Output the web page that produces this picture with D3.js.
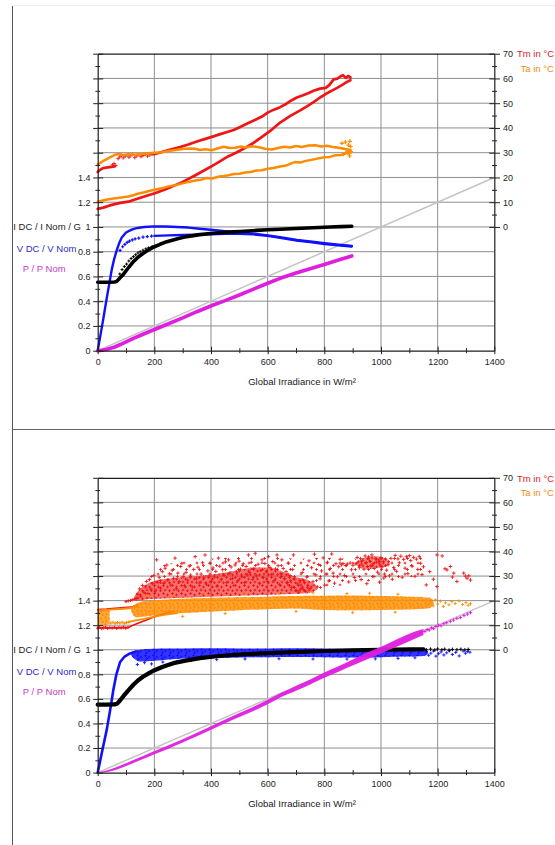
<!DOCTYPE html>
<html>
<head>
<meta charset="utf-8">
<title>PV module response vs. global irradiance</title>
<script src="https://cdn.jsdelivr.net/npm/d3@7/dist/d3.min.js"></script>
<style>
  html, body { margin: 0; padding: 0; background: #fff; }
  svg { display: block; }
  text { font-family: "Liberation Sans", Arial, Helvetica, sans-serif; }
</style>
</head>
<body>
<svg id="chart" width="555" height="845"></svg>
<script>
// ---------- ticks and titles ----------
const G_TICKS = [0, 200, 400, 600, 800, 1000, 1200, 1400];
const G_MINOR = [100, 300, 500, 700, 900, 1100, 1300];
const G_GRID = [200, 400, 600, 800, 1000, 1200];
const RATIO_LABELS = [0, 0.2, 0.4, 0.6, 0.8, 1, 1.2, 1.4];
const RATIO_MAJOR = [0, 0.2, 0.4, 0.6, 0.8, 1, 1.2, 1.4, 1.6, 1.8, 2, 2.2, 2.4];
const RATIO_MINOR = [0.1, 0.3, 0.5, 0.7, 0.9, 1.1, 1.3, 1.5, 1.7, 1.9, 2.1, 2.3];
const RATIO_GRID = [0.2, 0.4, 0.6, 0.8, 1, 1.2, 1.4, 1.6, 1.8, 2, 2.2];
const TEMP_TICKS = [0, 10, 20, 30, 40, 50, 60, 70];
const TEMP_MINOR = [5, 15, 25, 35, 45, 55, 65];
const X_TITLE = "Global Irradiance in W/m²";
const LEFT_TITLES = ["I DC / I Nom / G", "V DC / V Nom", "P / P Nom"];
const RIGHT_TITLES = ["Tm in °C", "Ta in °C"];
const REF_LINE = [[0, 0], [1400, 1.4]];   // P/P Nom = G / 1000

// ---------- day A (upper chart): [G, value] ----------
const A_TM_RISE = [[0,7.3],[20,7.8],[40,8.6],[60,9.2],[80,9.7],[108,10.2],[140,11.4],[170,12.5],[202,13.6],[240,15.2],[270,16.7],[300,18.2],[340,20.6],[380,23.1],[403,24.6],[430,26.4],[460,28.5],[490,30.1],[520,31.9],[550,34.0],[580,36.4],[610,38.9],[644,42.2],[680,44.9],[715,47.1],[740,48.8],[762,50.4],[785,52.3],[803,53.6],[825,55.0],[845,56.2],[862,57.3],[880,58.6],[892,59.3]];
const A_TM_FALL_START = [[0,22.2],[6,22.9],[14,23.5],[24,23.9],[36,24.1],[48,24.3],[60,24.5]];
const A_TM_SCATTER = [[52,25.1],[58,25.6],[64,24.8],[72,27.6],[78,28.3],[84,28.9],[90,27.9],[97,28.6],[104,29.1],[110,28.2],[117,28.8],[124,29.3],[131,28.0],[138,28.7],[146,29.2],[153,28.4],[160,28.9],[168,29.4],[176,28.6],[184,29.1],[192,29.3]];
const A_TM_FALL = [[198,29.4],[215,29.9],[235,30.6],[260,31.4],[291,32.3],[320,33.3],[350,34.5],[380,35.6],[400,36.3],[430,37.4],[460,38.5],[480,39.2],[503,40.4],[530,41.9],[555,43.2],[580,44.6],[600,46.2],[620,47.3],[644,48.4],[665,49.7],[685,51.2],[703,52.3],[725,53.2],[745,54.1],[762,55.0],[785,55.9],[805,56.2],[818,57.4],[833,59.6],[846,59.9],[856,60.8],[866,61.3],[876,60.2],[884,61.0],[892,60.4]];
const A_TA_RISE = [[0,10.2],[15,10.6],[30,11.0],[50,11.4],[70,11.7],[90,12.0],[108,12.3],[125,12.8],[145,13.5],[165,14.0],[185,14.6],[205,15.1],[226,15.6],[250,16.4],[275,16.9],[300,17.6],[320,18.2],[344,18.8],[365,19.1],[385,19.8],[405,19.6],[425,20.3],[445,20.6],[462,20.9],[480,21.4],[500,21.5],[520,22.0],[540,22.2],[560,22.8],[579,22.9],[600,23.5],[620,23.8],[644,24.4],[665,24.8],[685,25.8],[697,26.2],[715,26.0],[735,26.7],[755,27.1],[775,27.6],[800,28.2],[820,28.3],[840,29.0],[860,29.1],[878,29.8],[892,30.0]];
const A_TA_FALL = [[0,25.3],[8,25.8],[16,26.4],[25,27.0],[35,27.6],[45,28.2],[55,28.8],[65,29.3],[75,29.5],[90,29.1],[110,29.4],[130,29.2],[160,29.6],[200,30.0],[225,30.2],[250,30.7],[280,31.2],[300,31.5],[320,31.7],[344,31.6],[360,31.1],[380,31.4],[403,31.0],[425,31.8],[445,32.4],[465,31.9],[485,32.0],[505,32.5],[520,32.1],[545,32.6],[570,32.2],[590,31.6],[615,31.3],[640,32.0],[660,32.4],[680,32.1],[700,32.7],[720,32.3],[745,32.9],[768,33.0],[790,32.5],[810,32.8],[830,32.3],[850,32.0],[870,31.6],[892,31.1]];
const A_TA_END = [[862,33.8],[868,29.4],[874,34.3],[880,30.6],[885,33.1],[889,28.7],[893,32.5],[890,34.6],[884,29.9],[894,30.4]];
const A_IDC = [[0,0.553],[20,0.553],[40,0.553],[60,0.555],[67,0.56],[75,0.58],[90,0.615],[108,0.67],[126,0.72],[143,0.757],[161,0.787],[180,0.815],[196,0.836],[220,0.86],[244,0.881],[285,0.907],[314,0.922],[360,0.938],[408,0.949],[460,0.958],[503,0.963],[560,0.972],[600,0.977],[644,0.982],[700,0.988],[760,0.994],[820,0.999],[860,1.003],[897,1.006]];
const A_IDC_DOTS = [[78,0.62],[86,0.655],[94,0.68],[102,0.70],[110,0.725],[118,0.745],[126,0.76],[134,0.775],[142,0.79],[150,0.80],[160,0.812],[170,0.823],[180,0.832],[192,0.842]];
const A_VDC = [[0,0],[10,0.13],[20,0.26],[30,0.40],[40,0.53],[50,0.66],[58,0.74],[67,0.81],[76,0.87],[85,0.915],[100,0.955],[120,0.978],[140,0.992],[165,1.0],[200,1.005],[240,1.004],[280,1.0],[320,0.995],[360,0.985],[408,0.975],[450,0.965],[500,0.955],[550,0.945],[600,0.932],[644,0.918],[703,0.895],[750,0.882],[801,0.868],[850,0.856],[897,0.846]];
const A_VDC_LOW = [[200,0.928],[250,0.932],[300,0.935],[350,0.937],[400,0.94],[450,0.944],[500,0.945],[550,0.94],[600,0.928],[644,0.912],[703,0.89],[750,0.877],[801,0.862],[850,0.852],[897,0.842]];
const A_VDC_DOTS = [[79,0.81],[88,0.84],[96,0.86],[104,0.875],[112,0.885],[122,0.895],[132,0.903],[145,0.91],[160,0.918],[175,0.922],[190,0.926]];
const A_P = [[0,0],[15,0.004],[30,0.01],[45,0.02],[60,0.03],[80,0.05],[100,0.072],[126,0.1],[160,0.133],[196,0.167],[250,0.218],[300,0.265],[350,0.315],[408,0.369],[450,0.405],[500,0.45],[550,0.497],[600,0.545],[644,0.585],[700,0.628],[750,0.662],[800,0.696],[850,0.733],[897,0.766]];

// ---------- day B (lower chart) ----------
const B_TM_LOW_DOTS = [[0,8.8],[7,9.1],[14,8.6],[21,8.9],[28,9.2],[35,8.7],[43,9.0],[51,8.8],[59,9.1],[67,8.7],[75,9.0],[83,8.9],[91,9.2],[99,8.8],[107,9.1]];
const B_TM_LOW_RISE = [[0,8.9],[108,9.0],[120,9.8],[140,10.7],[170,12.0],[200,13.4],[238,14.9],[270,15.8]];
const B_TM_TOP_EDGE = [[0,16.4],[30,16.6],[60,16.9],[95,17.2],[125,17.5],[140,18.2]];
const B_TM_LEFT_BITS = [[100,19.6],[108,19.9],[116,20.1],[124,20.4],[132,20.7],[138,21.0]];
// [G, lower T, upper T] of the dense parts of the Tm cloud
const B_TM_CORE = [[128,20.2,21.5],[140,20.0,23.5],[170,20.5,26.5],[200,20.8,28.0],[250,21.0,29.0],[300,21.2,29.5],[350,21.4,30.0],[400,21.6,30.5],[450,21.8,31.5],[500,22.0,32.5],[550,22.2,33.5],[600,22.4,33.5],[650,22.6,32.0],[700,22.8,29.5],[740,23.0,28.5],[760,23.5,27.0],[775,24.5,25.5]];
const B_TM_CLUSTER = [[912,34.5,35.5],[925,33.5,36.5],[950,32.8,37.8],[975,33.0,38.2],[1000,33.5,37.8],[1020,34.0,37.0],[1032,35.0,36.0]];
// [G, lower T, upper T] of the looser parts of the Tm cloud
const B_TM_LOOSE = [[180,27.0,33.0],[300,29.0,36.0],[450,31.0,37.5],[600,33.0,38.5],[700,24.0,37.0],[800,25.0,37.5],[900,27.0,37.0],[1000,28.5,38.0],[1100,29.5,38.5],[1150,30.5,38.0]];
const B_TM_POINTS = [
  [142,22.5],[148,24.8],[152,21.8],[158,26.2],[163,23.4],[168,25.6],[172,27.8],[178,22.9],[183,28.6],[188,24.7],[193,26.9],[198,30.2],[203,23.6],[208,36.6],[212,27.4],[217,29.5],[222,25.1],[228,31.8],[233,27.0],[238,33.2],[244,34.5],[248,28.4],[253,30.9],[258,26.3],[263,32.4],[268,29.1],[273,37.3],[278,24.8],[283,31.2],[288,27.7],[293,33.9],[297,35.2],[302,29.8],
  [307,26.1],[312,31.5],[318,28.3],[323,34.1],[328,30.4],[334,25.6],[339,32.7],[344,37.9],[349,28.9],[354,33.6],[360,27.2],[365,30.8],[370,35.4],[375,29.3],[379,38.6],[384,26.7],[389,32.1],[393,30.0],[397,35.2],[402,27.9],[407,33.3],[412,29.6],[417,31.9],[421,25.8],[426,37.3],[431,34.0],[436,28.5],[441,32.6],[446,30.3],[451,35.8],[456,27.4],[462,36.6],[466,31.1],[471,33.7],[476,29.0],[481,26.2],[485,34.5],[490,31.6],[495,28.1],[499,36.1],
  [504,32.8],[509,29.7],[514,35.0],[519,27.3],[524,33.9],[528,30.5],[532,38.6],[537,31.4],[542,35.6],[547,28.6],[551,33.0],[556,39.3],[561,30.1],[566,34.8],[571,26.9],[576,32.2],[580,36.6],[585,29.4],[590,35.1],[595,31.7],[599,27.8],[603,37.9],[608,33.5],[613,30.6],[618,35.9],[623,28.2],[628,32.9],[633,38.6],[637,34.2],[642,26.5],[646,30.9],[650,36.6],[655,33.1],[660,29.0],[665,31.8],[670,27.4],[674,35.2],[679,30.2],[684,25.3],[688,32.7],[691,38.6],[696,28.8],
  [702,24.1],[706,26.8],[710,23.5],[714,28.2],[718,25.0],[722,31.5],[726,24.6],[730,27.3],[734,23.8],[738,29.6],[742,26.1],[746,36.2],[750,24.9],[755,33.4],[760,27.7],[765,38.9],[770,30.5],[775,25.6],[780,34.7],[785,28.9],[790,32.1],[796,37.4],[801,26.3],[806,30.8],[811,35.6],[816,28.0],[821,33.1],[826,39.0],[831,31.2],[836,27.1],[841,35.0],[846,29.7],[851,33.8],[856,36.8],[861,34.6],[866,35.1],[871,30.2],[876,34.3],[881,34.9],[886,27.6],[891,35.3],[896,32.6],[901,34.4],[906,29.4],[911,35.0],[916,37.6],
  [920,35.8],[924,33.4],[928,37.1],[932,34.9],[936,36.4],[940,32.8],[944,38.2],[948,35.5],[952,33.9],[956,37.8],[960,36.1],[964,34.2],[968,38.6],[972,35.0],[976,33.1],[980,37.0],[984,35.7],[988,31.6],[992,36.6],[996,34.5],[1000,37.5],[1004,33.7],[1008,35.9],[1012,30.8],[1016,36.9],[1020,32.4],
  [930,28.6],[950,26.9],[975,29.8],[995,27.5],[1010,29.2],
  [1025,34.6],[1030,30.1],[1035,37.2],[1040,28.7],[1045,33.5],[1050,38.4],[1055,31.9],[1060,37.0],[1065,35.4],[1070,38.1],[1075,29.5],[1080,36.8],[1085,33.2],[1090,37.9],[1095,31.0],[1100,38.3],[1105,36.3],[1110,34.0],[1115,37.6],[1120,29.9],[1125,36.9],[1130,32.7],[1135,38.0],[1140,35.2],[1145,30.6],[1150,33.8],
  [1160,26.4],[1172,31.8],[1185,28.7],[1198,38.6],[1198,25.7],[1216,38.2],[1226,33.0],[1233,32.5],[1245,33.9],[1252,29.6],[1257,31.2],[1268,27.8],[1292,31.2],[1298,30.0],[1304,29.1],[1310,30.1],[1316,28.4]
];
const B_TA_BLOCK = [[0,9.8,16.0],[20,10.0,16.2],[42,10.4,16.4]];
const B_TA_LOW_DOTS = [[46,10.9],[54,11.2],[62,10.8],[70,11.1],[78,10.9],[86,11.2],[94,10.8],[102,11.1],[110,11.3]];
const B_TA_LOW_RISE = [[110,11.4],[130,11.9],[160,12.5],[200,13.5],[240,14.3],[280,14.9]];
const B_TA_TOP_EDGE = [[0,16.0],[40,16.3],[80,16.6],[120,17.0],[140,17.6]];
const B_TA_BAND = [[118,15.8,17.4],[135,13.2,18.6],[160,13.4,19.7],[200,14.0,20.2],[260,14.7,20.6],[343,15.2,21.0],[420,15.7,21.2],[500,16.1,21.4],[600,16.5,21.6],[697,16.8,21.9],[800,16.2,22.0],[900,16.1,22.1],[1000,16.2,21.9],[1100,16.4,21.6],[1170,16.9,21.2],[1185,18.2,20.2]];
const B_TA_POINTS = [[180,22.0],[260,21.9],[380,22.5],[520,23.0],[640,22.8],[760,23.2],[880,22.9],[960,23.0],[1060,22.6],[300,13.6],[450,14.8],[700,15.6],[900,15.1],[1050,15.3],
  [1176,19.4],[1184,17.9],[1192,20.3],[1200,18.6],[1210,19.8],[1220,17.6],[1228,19.1],[1240,18.3],[1250,19.6],[1262,18.8],[1275,19.9],[1288,18.4],[1300,19.2],[1308,18.1],[1316,18.7]];
const B_IDC = [[0,0.553],[30,0.553],[60,0.555],[68,0.56],[78,0.585],[90,0.62],[108,0.67],[126,0.715],[143,0.752],[161,0.782],[180,0.808],[196,0.829],[230,0.862],[267,0.891],[310,0.912],[361,0.932],[420,0.947],[479,0.959],[560,0.968],[644,0.976],[720,0.983],[800,0.99],[900,0.996],[1000,1.0],[1100,1.003],[1150,1.004]];
const B_IDC_TAIL = [[1160,1.0],[1175,1.005],[1190,0.998],[1200,1.006],[1215,1.0],[1225,1.004],[1240,0.997],[1252,1.003],[1268,1.0],[1282,1.004],[1296,0.999],[1308,1.003]];
const B_VDC_RISE = [[0,0],[10,0.11],[20,0.22],[32,0.35],[44,0.51],[55,0.67],[66,0.8],[79,0.9],[95,0.945],[114,0.97],[135,0.985]];
const B_VDC_BAND = [[118,0.955,0.975],[125,0.935,0.985],[150,0.905,1.0],[200,0.91,1.008],[250,0.92,1.01],[300,0.928,1.01],[400,0.934,1.012],[500,0.938,1.01],[600,0.94,1.01],[700,0.942,1.012],[800,0.94,1.01],[900,0.938,1.008],[1000,0.94,1.01],[1080,0.945,1.008],[1150,0.95,1.004],[1165,0.965,0.99]];
const B_VDC_POINTS = [[140,0.88],[165,0.895],[190,0.885],[230,0.9],[280,0.905],[330,0.915],[420,0.92],[520,0.925],[640,0.927],[760,0.925],[880,0.924],[980,0.926],[1060,0.93],[1120,0.935],
  [1160,0.985],[1168,0.955],[1176,0.972],[1185,0.99],[1194,0.948],[1203,0.968],[1212,0.982],[1222,0.958],[1232,0.975],[1242,0.992],[1252,0.962],[1264,0.978],[1276,0.95],[1290,0.99],[1298,0.972],[1306,0.985],[1314,0.98]];
const B_P_BAND = [[0,0,0.004],[20,0,0.012],[45,0.01,0.028],[80,0.035,0.057],[126,0.078,0.102],[160,0.11,0.135],[196,0.145,0.171],[250,0.195,0.222],[300,0.245,0.272],[350,0.295,0.325],[408,0.357,0.388],[450,0.402,0.433],[500,0.452,0.485],[550,0.502,0.537],[600,0.556,0.593],[644,0.612,0.645],[700,0.667,0.705],[750,0.718,0.758],[800,0.772,0.815],[850,0.822,0.865],[900,0.872,0.92],[950,0.92,0.975],[1000,0.97,1.025],[1040,1.01,1.068],[1080,1.05,1.11],[1120,1.09,1.148],[1150,1.12,1.17]];
const B_P_TAIL = [[1155,1.15],[1163,1.165],[1170,1.16],[1178,1.178],[1186,1.172],[1194,1.19],[1203,1.2],[1212,1.195],[1222,1.212],[1232,1.22],[1245,1.232],[1256,1.242],[1268,1.255],[1280,1.262],[1293,1.278],[1305,1.29],[1316,1.302]];

// ---------- colours ----------
const C = {
  tm: "#f01414", ta: "#ff8c00", idc: "#000000", vdc: "#1010ff", p: "#e01ee0",
  ref: "#c4c4c4", grid: "#8e8e8e", axis: "#1e1e1e",
  tmText: "#e0202a", taText: "#f08c14", vText: "#2a2ad0", pText: "#c83cc8"
};

const svg = d3.select("#chart");

// '+'-marker textures for the dense parts of the scatter clouds
const defs = svg.append("defs");
function crossPattern(id, color, w, h, pts) {
  const pat = defs.append("pattern").attr("id", id).attr("patternUnits", "userSpaceOnUse")
    .attr("width", w).attr("height", h);
  pat.append("path")
    .attr("d", pts.map(([px, py]) => `M${px - 1.4},${py}h2.8M${px},${py - 1.4}v2.8`).join(""))
    .attr("stroke", color).attr("stroke-width", 0.9).attr("fill", "none");
}
crossPattern("texTm", C.tm, 9, 8, [[1.5, 1.5], [5.5, 3], [3, 6], [7.5, 6.8]]);
crossPattern("texTmLoose", C.tm, 13, 11, [[2, 2], [8.5, 4.5], [4.5, 8.5]]);
crossPattern("texTa", C.ta, 8, 7, [[1.5, 1.5], [5, 2.5], [2.5, 5], [6.5, 5.8]]);
crossPattern("texV", C.vdc, 8, 6, [[1.5, 1.5], [5, 3], [2.5, 4.8]]);

// page frame
svg.append("line").attr("x1", 12.5).attr("x2", 12.5).attr("y1", 5).attr("y2", 845).attr("stroke", "#555").attr("stroke-width", 1);
svg.append("line").attr("x1", 12).attr("x2", 555).attr("y1", 5.5).attr("y2", 5.5).attr("stroke", "#ececec").attr("stroke-width", 1);
svg.append("line").attr("x1", 12).attr("x2", 555).attr("y1", 429.5).attr("y2", 429.5).attr("stroke", "#666").attr("stroke-width", 1);

function buildPanel(base, top) {
  const x = d3.scaleLinear().domain([0, 1400]).range([97.7, 494.3]);
  const y = d3.scaleLinear().domain([0, 2.4]).range([base, top]);
  const t = d3.scaleLinear().domain([0, 70]).range([y(1), y(2.4)]);
  const root = svg.append("g");
  const gridG = root.append("g");
  const dataG = root.append("g");
  const axisG = root.append("g");

  // grid
  gridG.append("g").selectAll("line").data(RATIO_GRID).join("line")
    .attr("x1", x(0)).attr("x2", x(1400)).attr("y1", d => y(d)).attr("y2", d => y(d))
    .attr("stroke", C.grid).attr("stroke-width", 1);
  gridG.append("g").selectAll("line").data(G_GRID).join("line")
    .attr("x1", d => x(d)).attr("x2", d => x(d)).attr("y1", y(0)).attr("y2", y(2.4))
    .attr("stroke", C.grid).attr("stroke-width", 1);

  const style = sel => sel.attr("font-size", 9).attr("font-family", '"Liberation Sans", Arial, sans-serif')
    .attr("color", C.axis)
    .call(s => s.selectAll(".domain").attr("stroke-width", 1.2));
  const noDomain = s => s.select(".domain").remove();
  const plain = d => String(d);

  // left ratio axis
  axisG.append("g").attr("transform", `translate(${x(0)},0)`)
    .call(d3.axisLeft(y).tickValues(RATIO_MAJOR).tickSize(4.5).tickSizeOuter(0).tickPadding(2.8)
      .tickFormat(d => RATIO_LABELS.includes(d) ? String(d) : ""))
    .call(style);
  axisG.append("g").attr("transform", `translate(${x(0)},0)`)
    .call(d3.axisRight(y).tickValues(RATIO_MAJOR).tickSize(5.5).tickFormat("")).call(noDomain).call(style);
  axisG.append("g").attr("transform", `translate(${x(0)},0)`)
    .call(d3.axisLeft(y).tickValues(RATIO_MINOR).tickSize(2.3).tickFormat("")).call(noDomain).call(style);
  axisG.append("g").attr("transform", `translate(${x(0)},0)`)
    .call(d3.axisRight(y).tickValues(RATIO_MINOR).tickSize(2.5).tickFormat("")).call(noDomain).call(style);

  // right border and temperature axis
  axisG.append("g").attr("transform", `translate(${x(1400)},0)`)
    .call(d3.axisRight(y).tickValues([]).tickSizeOuter(0)).call(style);
  axisG.append("g").attr("transform", `translate(${x(1400)},0)`)
    .call(d3.axisRight(t).tickValues(TEMP_TICKS).tickSize(5.7).tickSizeOuter(0).tickPadding(3).tickFormat(plain))
    .call(noDomain).call(style);
  axisG.append("g").attr("transform", `translate(${x(1400)},0)`)
    .call(d3.axisLeft(t).tickValues(TEMP_TICKS).tickSize(5).tickFormat("")).call(noDomain).call(style);
  axisG.append("g").attr("transform", `translate(${x(1400)},0)`)
    .call(d3.axisRight(t).tickValues(TEMP_MINOR).tickSize(2.7).tickFormat("")).call(noDomain).call(style);
  axisG.append("g").attr("transform", `translate(${x(1400)},0)`)
    .call(d3.axisLeft(t).tickValues(TEMP_MINOR).tickSize(2.3).tickFormat("")).call(noDomain).call(style);

  // bottom irradiance axis and top border
  axisG.append("g").attr("transform", `translate(0,${y(0)})`)
    .call(d3.axisBottom(x).tickValues(G_TICKS).tickSize(3.5).tickSizeOuter(0).tickPadding(4.5).tickFormat(plain))
    .call(style);
  axisG.append("g").attr("transform", `translate(0,${y(0)})`)
    .call(d3.axisTop(x).tickValues(G_TICKS).tickSize(4).tickFormat("")).call(noDomain).call(style);
  axisG.append("g").attr("transform", `translate(0,${y(0)})`)
    .call(d3.axisBottom(x).tickValues(G_MINOR).tickSize(2.5).tickFormat("")).call(noDomain).call(style);
  axisG.append("g").attr("transform", `translate(0,${y(0)})`)
    .call(d3.axisTop(x).tickValues(G_MINOR).tickSize(2.5).tickFormat("")).call(noDomain).call(style);
  axisG.append("g").attr("transform", `translate(0,${y(2.4)})`)
    .call(d3.axisTop(x).tickValues([]).tickSizeOuter(0)).call(style);

  // titles
  axisG.append("text").attr("x", 302).attr("y", y(0) + 34.3).attr("text-anchor", "middle")
    .attr("font-size", 9.5).attr("fill", "#1a1a1a").text(X_TITLE);
  const leftCol = [C.axis, C.vText, C.pText];
  const leftX = [13.3, 16.7, 22.7];
  const leftDy = [0, 22.3, 42.3];
  LEFT_TITLES.forEach((s, i) => {
    axisG.append("text").attr("x", leftX[i]).attr("y", y(1) + leftDy[i]).attr("dy", "0.34em")
      .attr("font-size", 9.5).attr("fill", leftCol[i]).text(s);
  });
  const rightCol = [C.tmText, C.taText];
  const rightX = [517, 520.5];
  const rightDy = [0.5, 15];
  RIGHT_TITLES.forEach((s, i) => {
    axisG.append("text").attr("x", rightX[i]).attr("y", y(2.4) + rightDy[i]).attr("dy", "0.34em")
      .attr("font-size", 9.5).attr("fill", rightCol[i]).text(s);
  });

  // drawing helpers
  const ratioY = d => y(d);
  const tempY = d => t(d);
  const path = (data, ys, color, width) =>
    dataG.append("path").datum(data)
      .attr("d", d3.line().x(d => x(d[0])).y(d => ys(d[1])))
      .attr("fill", "none").attr("stroke", color).attr("stroke-width", width)
      .attr("stroke-linejoin", "round").attr("stroke-linecap", "round");
  // band between [G, lo, hi]: a tinted base plus a '+' texture on top
  const band = (data, ys, color, opacity, tex) => {
    const a = d3.area().x(d => x(d[0])).y0(d => ys(d[1])).y1(d => ys(d[2])).curve(d3.curveMonotoneX);
    if (opacity > 0) dataG.append("path").datum(data).attr("d", a)
      .attr("fill", color).attr("fill-opacity", opacity);
    if (tex) dataG.append("path").datum(data).attr("d", a).attr("fill", `url(#${tex})`);
  };
  const crosses = (data, ys, color, r, w) =>
    dataG.append("g").attr("stroke", color).attr("stroke-width", w).selectAll("path").data(data).join("path")
      .attr("d", d => `M${x(d[0]) - r},${ys(d[1])}h${2 * r}M${x(d[0])},${ys(d[1]) - r}v${2 * r}`);

  // 1:1 reference
  path(REF_LINE, ratioY, C.ref, 1.5);

  return { x, y, t, ratioY, tempY, path, band, crosses };
}

// ----- upper chart -----
const A = buildPanel(350.7, 53.7);
A.path(A_TM_RISE, A.tempY, C.tm, 2.7);
A.path(A_TM_FALL_START, A.tempY, C.tm, 2.7);
A.crosses(A_TM_SCATTER, A.tempY, C.tm, 1.8, 0.9);
A.path(A_TM_FALL, A.tempY, C.tm, 2.7);
A.path(A_TA_RISE, A.tempY, C.ta, 2.5);
A.path(A_TA_FALL, A.tempY, C.ta, 2.5);
A.crosses(A_TA_END, A.tempY, C.ta, 2, 1.2);
A.path(A_VDC_LOW, A.ratioY, C.vdc, 2.4);
A.path(A_VDC, A.ratioY, C.vdc, 2.4);
A.crosses(A_VDC_DOTS, A.ratioY, C.vdc, 1.6, 1.2);
A.path(A_IDC, A.ratioY, C.idc, 3.6);
A.crosses(A_IDC_DOTS, A.ratioY, C.idc, 1.5, 1);
A.path(A_P, A.ratioY, C.p, 3.6);

// ----- lower chart -----
const B = buildPanel(772.6, 477.8);
B.band(B_TM_LOOSE, B.tempY, C.tm, 0, "texTmLoose");
B.band(B_TM_CORE, B.tempY, C.tm, 0.6, "texTm");
B.band(B_TM_CLUSTER, B.tempY, C.tm, 0.5, "texTm");
B.crosses(B_TM_POINTS, B.tempY, C.tm, 1.8, 0.9);
B.path(B_TM_LOW_RISE, B.tempY, C.tm, 1.6);
B.crosses(B_TM_LOW_DOTS, B.tempY, C.tm, 1.6, 1);
B.path(B_TM_TOP_EDGE, B.tempY, C.tm, 1.6);
B.crosses(B_TM_LEFT_BITS, B.tempY, C.tm, 1.6, 1);
B.band(B_TA_BLOCK, B.tempY, C.ta, 0.75, "texTa");
B.crosses(B_TA_LOW_DOTS, B.tempY, C.ta, 1.6, 1);
B.path(B_TA_LOW_RISE, B.tempY, C.ta, 1.8);
B.path(B_TA_TOP_EDGE, B.tempY, C.ta, 1.8);
B.band(B_TA_BAND, B.tempY, C.ta, 0.82, "texTa");
B.crosses(B_TA_POINTS, B.tempY, C.ta, 1.6, 0.9);
B.band(B_VDC_BAND, B.ratioY, C.vdc, 0.85, "texV");
B.path(B_VDC_RISE, B.ratioY, C.vdc, 2.6);
B.crosses(B_VDC_POINTS, B.ratioY, C.vdc, 1.6, 0.9);
B.path(B_IDC, B.ratioY, C.idc, 4.2);
B.crosses(B_IDC_TAIL, B.ratioY, C.idc, 1.8, 1);
B.band(B_P_BAND, B.ratioY, C.p, 0.95);
B.crosses(B_P_TAIL, B.ratioY, C.p, 1.7, 1);
</script>
</body>
</html>
